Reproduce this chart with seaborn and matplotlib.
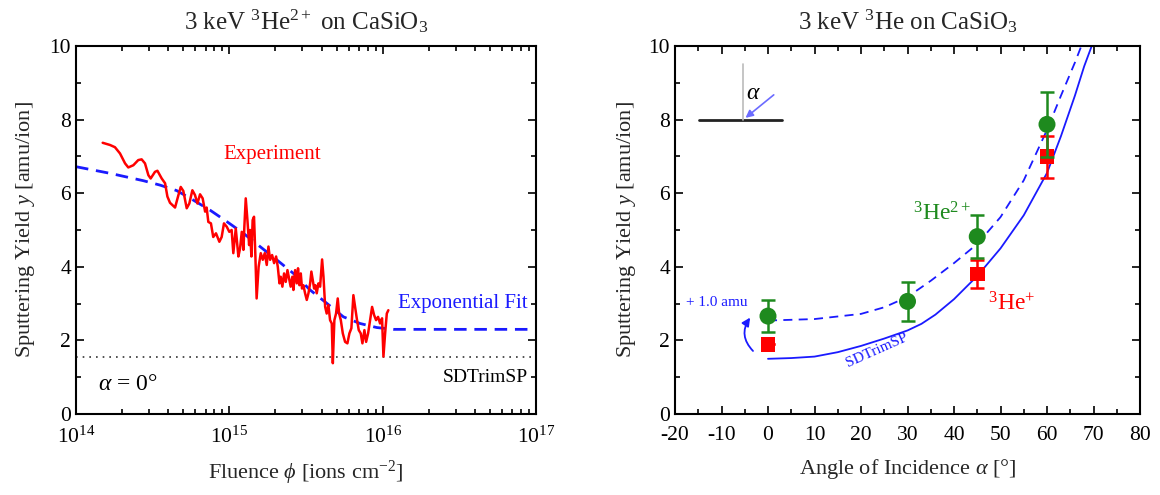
import numpy as np
import pandas as pd
import matplotlib
matplotlib.use('Agg')
import matplotlib.pyplot as plt
import seaborn as sns
from matplotlib.ticker import MultipleLocator, LogLocator, NullFormatter, FixedLocator

sns.set_theme(style='ticks')
plt.rcParams['font.family'] = ['Liberation Serif', 'DejaVu Serif']
plt.rcParams['mathtext.fontset'] = 'custom'
plt.rcParams['mathtext.rm'] = 'Liberation Serif'
plt.rcParams['mathtext.it'] = 'Liberation Serif:italic'
plt.rcParams['mathtext.bf'] = 'Liberation Serif:bold'
plt.rcParams['mathtext.fallback'] = 'stix'
plt.rcParams['axes.unicode_minus'] = False

# ---------------- Left panel data (log10 of fluence, yield) ----------------
exp_log_fluence = [
    14.174, 14.222, 14.254, 14.287, 14.320, 14.341, 14.374, 14.406, 14.428, 14.450,
    14.472, 14.487, 14.515, 14.531, 14.559, 14.581, 14.596, 14.613, 14.646, 14.668,
    14.683, 14.700, 14.722, 14.739, 14.759, 14.776, 14.792, 14.809, 14.826, 14.842,
    14.852, 14.863, 14.880, 14.895, 14.913, 14.935, 14.950, 14.965, 14.983, 15.000,
    15.015, 15.026, 15.042, 15.059, 15.070, 15.081, 15.092, 15.098, 15.107, 15.118,
    15.129, 15.135, 15.144, 15.152, 15.161, 15.170, 15.178, 15.191, 15.205, 15.218,
    15.231, 15.244, 15.255, 15.266, 15.279, 15.292, 15.305, 15.316, 15.327, 15.335,
    15.346, 15.357, 15.368, 15.379, 15.392, 15.400, 15.411, 15.418, 15.429, 15.440,
    15.448, 15.457, 15.466, 15.474, 15.483, 15.494, 15.505, 15.516, 15.527, 15.535,
    15.544, 15.553, 15.561, 15.570, 15.581, 15.592, 15.605, 15.614, 15.625, 15.635,
    15.646, 15.657, 15.668, 15.675, 15.685, 15.696, 15.707, 15.716, 15.727, 15.740,
    15.755, 15.770, 15.783, 15.796, 15.809, 15.820, 15.831, 15.844, 15.857, 15.868,
    15.881, 15.892, 15.905, 15.918, 15.931, 15.944, 15.957, 15.970, 15.983, 15.996,
    16.005, 16.016, 16.027, 16.037]
exp_yield = [
    7.37, 7.31, 7.25, 7.08, 6.81, 6.70, 6.76, 6.90, 6.92, 6.81,
    6.49, 6.40, 6.58, 6.61, 6.40, 6.27, 5.91, 5.74, 5.61, 5.95,
    6.17, 6.06, 5.59, 5.72, 6.08, 5.95, 5.72, 5.97, 5.86, 5.50,
    5.61, 5.22, 5.18, 4.81, 4.91, 4.68, 4.81, 5.18, 5.09, 4.95,
    5.00, 4.37, 5.04, 4.28, 4.50, 4.95, 4.46, 5.09, 5.86, 5.27,
    4.59, 5.00, 4.28, 5.27, 5.36, 4.28, 3.14, 4.00, 4.37, 4.19,
    4.37, 4.05, 4.55, 4.19, 4.32, 4.10, 4.28, 4.00, 3.55, 3.73,
    3.46, 3.82, 3.59, 3.91, 3.64, 3.46, 3.73, 3.37, 3.91, 3.55,
    3.96, 3.50, 3.82, 3.41, 3.50, 3.28, 3.10, 3.28, 3.55, 3.87,
    3.64, 3.41, 3.50, 3.28, 3.55, 3.46, 4.20, 3.73, 2.91, 2.73,
    2.96, 2.55, 2.46, 1.38, 2.55, 2.73, 3.14, 2.73, 2.55, 2.19,
    1.96, 1.92, 2.19, 2.33, 3.23, 2.91, 2.60, 2.28, 2.19, 1.92,
    2.28, 1.96, 2.19, 2.55, 2.91, 2.69, 2.55, 2.64, 2.46, 2.60,
    1.56, 2.19, 2.73, 2.82]

fit_log_fluence = [14.0, 14.222, 14.439, 14.548, 14.657, 14.766, 14.874, 14.983, 15.092,
                   15.200, 15.309, 15.418, 15.527, 15.635, 15.744, 15.852, 15.961, 16.070,
                   16.5, 17.0]
fit_yield = [6.72, 6.54, 6.34, 6.22, 6.07, 5.81, 5.54, 5.23, 4.91,
             4.55, 4.19, 3.82, 3.37, 3.01, 2.64, 2.46, 2.35, 2.30,
             2.30, 2.30]

sdtrim_normal = 1.55

# ---------------- Right panel data ----------------
angles_he2 = [0, 30, 45, 60]
yield_he2 = [2.66, 3.06, 4.82, 7.87]
err_he2 = [0.44, 0.52, 0.58, 0.88]

angles_he1 = [0, 45, 60]
yield_he1 = [1.89, 3.80, 6.99]
err_he1 = [0.0, 0.38, 0.57]

sim_angle = [0, 5, 10, 15, 20, 25, 30, 33, 36, 40, 45, 50, 55, 60, 63, 66, 68, 70.5]
sim_yield = [1.50, 1.52, 1.56, 1.68, 1.85, 2.05, 2.27, 2.45, 2.70, 3.12, 3.75, 4.50, 5.40,
             6.55, 7.55, 8.65, 9.45, 10.3]
sim_plus_angle = [0, 10, 20, 25, 30, 35, 40, 45, 50, 55, 60, 63, 66, 68]
sim_plus_yield = [2.54, 2.58, 2.72, 2.90, 3.18, 3.62, 4.10, 4.62, 5.35, 6.35, 7.72,
                  8.65, 9.55, 10.2]

# ---------------- Figure ----------------
W, H = 1160, 495
fig = plt.figure(figsize=(W / 100, H / 100), dpi=100)
ax1 = fig.add_axes([76 / W, 1 - 414 / H, 460 / W, 368 / H])
ax2 = fig.add_axes([675 / W, 1 - 414 / H, 465 / W, 368 / H])

RED = '#ff0000'
BLUE = '#1a1aff'
GREEN = '#1e8a1e'

# Left panel
df_exp = pd.DataFrame({'fluence': 10.0 ** np.array(exp_log_fluence), 'yield': exp_yield})
df_fit = pd.DataFrame({'fluence': 10.0 ** np.array(fit_log_fluence), 'yield': fit_yield})
ax1.axhline(sdtrim_normal, color='#333333', lw=1.2, ls=(0, (1, 3)))
sns.lineplot(data=df_fit, x='fluence', y='yield', ax=ax1, color=BLUE, lw=2.0,
             linestyle=(0, (4.5, 2.8)), sort=False, estimator=None)
sns.lineplot(data=df_exp, x='fluence', y='yield', ax=ax1, color=RED, lw=1.8,
             sort=False, estimator=None)
ax1.set_xscale('log')
ax1.set_xlim(1e14, 1e17)
ax1.set_ylim(0, 10)
ax1.xaxis.set_major_locator(FixedLocator([1e14, 1e15, 1e16, 1e17]))
ax1.xaxis.set_minor_locator(LogLocator(base=10, subs=np.arange(2, 10), numticks=50))
ax1.xaxis.set_minor_formatter(NullFormatter())
ax1.yaxis.set_major_locator(MultipleLocator(2))
ax1.yaxis.set_minor_locator(MultipleLocator(1))
ax1.set_title('3 keV $^{3}$He$^{2+}$ on CaSiO$_{3}$', fontsize=18, pad=12)
ax1.set_xlabel('Fluence $\\phi$ [ions cm$^{-2}$]', fontsize=16, labelpad=8)
ax1.set_ylabel('Sputtering Yield $y$ [amu/ion]', fontsize=16, labelpad=9)
ax1.text(1.9e15, 7.06, 'Experiment', color=RED, fontsize=15, ha='center', va='center')
ax1.text(10 ** 16.10, 3.0, 'Exponential Fit', color=BLUE, fontsize=15, ha='left', va='center')
ax1.text(10 ** 16.95, 1.0, 'SDTrimSP', color='black', fontsize=14, ha='right', va='center')
ax1.text(1.4e14, 0.8, '$\\alpha$ = 0°', color='black', fontsize=17, ha='left', va='center')

# Right panel
df_sim = pd.DataFrame({'angle': sim_angle, 'yield': sim_yield})
df_simp = pd.DataFrame({'angle': sim_plus_angle, 'yield': sim_plus_yield})
sns.lineplot(data=df_sim, x='angle', y='yield', ax=ax2, color=BLUE, lw=1.3,
             sort=False, estimator=None)
sns.lineplot(data=df_simp, x='angle', y='yield', ax=ax2, color=BLUE, lw=1.3,
             linestyle=(0, (5, 3.5)), sort=False, estimator=None)
ax2.errorbar(angles_he1, yield_he1, yerr=err_he1, fmt='none', ecolor=RED, elinewidth=1.8,
             capsize=5, capthick=1.8, zorder=3)
sns.scatterplot(x=angles_he1, y=yield_he1, ax=ax2, color=RED, marker='s', s=110,
                edgecolor='none', zorder=4)
ax2.errorbar(angles_he2, yield_he2, yerr=err_he2, fmt='none', ecolor=GREEN, elinewidth=1.8,
             capsize=5, capthick=1.8, zorder=5)
sns.scatterplot(x=angles_he2, y=yield_he2, ax=ax2, color=GREEN, marker='o', s=150,
                edgecolor='none', zorder=6)
ax2.set_xlim(-20, 80)
ax2.set_ylim(0, 10)
ax2.xaxis.set_major_locator(MultipleLocator(10))
ax2.xaxis.set_minor_locator(MultipleLocator(5))
ax2.yaxis.set_major_locator(MultipleLocator(2))
ax2.yaxis.set_minor_locator(MultipleLocator(1))
ax2.set_title('3 keV $^{3}$He on CaSiO$_{3}$', fontsize=18, pad=12)
ax2.set_xlabel('Angle of Incidence $\\alpha$ [°]', fontsize=16, labelpad=8)
ax2.set_ylabel('Sputtering Yield $y$ [amu/ion]', fontsize=16, labelpad=8)

ax2.text(37.5, 5.45, '$^{3}$He$^{2+}$', color=GREEN, fontsize=17, ha='center', va='center')
ax2.text(52.5, 3.0, '$^{3}$He$^{+}$', color=RED, fontsize=17, ha='center', va='center')
ax2.text(23.4, 1.72, 'SDTrimSP', color=BLUE, fontsize=11, ha='center', va='center', rotation=24)
ax2.text(-11, 3.02, '+ 1.0 amu', color=BLUE, fontsize=11, ha='center', va='center')
ax2.annotate('', xy=(-3.5, 2.68), xytext=(-2.8, 1.66),
             arrowprops=dict(arrowstyle='-|>', color=BLUE, lw=1.3, mutation_scale=12,
                             connectionstyle='arc3,rad=-0.45'))
# inset geometry sketch
ax2.plot([-14.9, 3.0], [8.0, 8.0], color='#222222', lw=2.0)
ax2.plot([-5.4, -5.4], [8.0, 9.5], color='#bbbbbb', lw=1.2)
ax2.annotate('', xy=(-5.3, 8.0), xytext=(1.7, 8.72),
             arrowprops=dict(arrowstyle='-|>', color='#6b6bff', lw=1.2, mutation_scale=11))
ax2.text(-3.2, 8.7, '$\\alpha$', color='black', fontsize=17, ha='center', va='center')

for ax in (ax1, ax2):
    ax.tick_params(which='both', direction='in', top=True, right=True, labelsize=15.5,
                   colors='black', width=1.2)
    ax.tick_params(which='major', length=6)
    ax.tick_params(which='minor', length=3.5)
    ax.tick_params(axis='x', pad=9)
    for s in ax.spines.values():
        s.set_linewidth(1.5)
        s.set_color('black')
    ax.grid(False)

fig.savefig('out.png', dpi=100)
